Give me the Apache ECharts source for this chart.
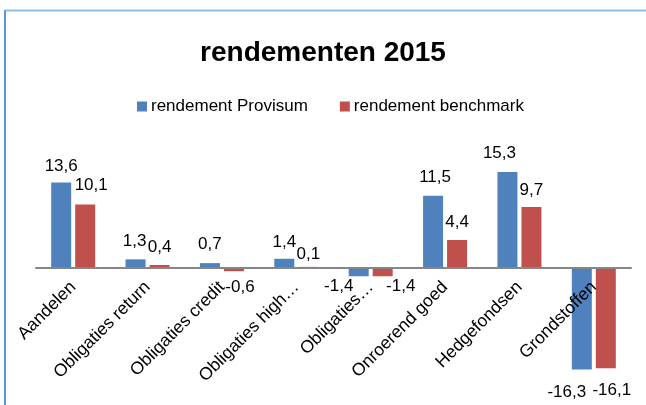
<!DOCTYPE html>
<html>
<head>
<meta charset="utf-8">
<script src="https://cdn.jsdelivr.net/npm/echarts@6/dist/echarts.min.js"></script>
<style>
html,body{margin:0;padding:0;background:#fff;}
#chart{width:646px;height:405px;}
</style>
</head>
<body>
<div id="chart"></div>
<script>
var categories = ['Aandelen', 'Obligaties return', 'Obligaties credit', 'Obligaties high…', 'Obligaties…', 'Onroerend goed', 'Hedgefondsen', 'Grondstoffen'];
var provisum = [13.6, 1.3, 0.7, 1.4, -1.4, 11.5, 15.3, -16.3];
var benchmark = [10.1, 0.4, -0.6, 0.1, -1.4, 4.4, 9.7, -16.1];
var seriesNames = ['rendement Provisum', 'rendement benchmark'];
var titleText = 'rendementen 2015';

// label nudges (styling only) [dx, dy]
var nudgeProvisum = [[0,0],[-1,-2],[0,-2],[0,0],[-20,-6],[2,-2],[-8,-2],[-15,6]];
var nudgeBenchmark = [[6,-3],[0,-1],[6,0],[0,4],[18,-6],[0,-1],[0,0],[6,6]];

var FONT = "'Liberation Sans', Arial, sans-serif";
var Y_MIN = -17, Y_MAX = 16, GRID_TOP = 167.5, GRID_BOTTOM = 31.25, H = 405;

function fmt(v){ return String(v).replace('.', ','); }

function buildData(vals, nudges){
  return vals.map(function(v, i){
    return {
      value: v,
      label: {
        position: v >= 0 ? 'top' : 'bottom',
        offset: nudges[i]
      }
    };
  });
}

// move the category axis (line + labels) up to the zero level
var plotH = H - GRID_TOP - GRID_BOTTOM;
var zeroShift = plotH * (0 - Y_MIN) / (Y_MAX - Y_MIN);

var chart = echarts.init(document.getElementById('chart'), null, {renderer:'canvas'});
chart.setOption({
  animation: false,
  backgroundColor: '#ffffff',
  color: ['#4f81bd', '#c0504d'],
  title: {
    text: titleText,
    left: 'center',
    top: 34,
    textStyle: {fontFamily: FONT, fontSize: 28, fontWeight: 'bold', color: '#000'}
  },
  legend: {
    data: seriesNames,
    left: 132,
    top: 93,
    icon: 'rect',
    itemWidth: 10,
    itemHeight: 10,
    itemGap: 32,
    textStyle: {fontFamily: FONT, fontSize: 17, color: '#000', padding: [0,0,0,-1]}
  },
  grid: {left: 36, right: 15, top: GRID_TOP, bottom: GRID_BOTTOM, containLabel: false, outerBoundsMode: 'none'},
  xAxis: {
    type: 'category',
    data: categories,
    offset: -zeroShift,
    z: 5,
    axisLine: {onZero: false, lineStyle: {color: '#868686', width: 2}},
    axisTick: {show: false},
    axisLabel: {interval: 0, rotate: 45, margin: 17, fontFamily: FONT, fontSize: 17.5, color: '#000', hideOverlap: false},
    splitLine: {show: false}
  },
  yAxis: {
    type: 'value',
    min: Y_MIN,
    max: Y_MAX,
    show: false
  },
  series: [
    {
      name: seriesNames[0],
      type: 'bar',
      barWidth: 20,
      barGap: '20%',
      data: buildData(provisum, nudgeProvisum),
      label: {show: true, distance: 8, fontFamily: FONT, fontSize: 17, color: '#000',
        formatter: function(p){ return fmt(p.value); }}
    },
    {
      name: seriesNames[1],
      type: 'bar',
      barWidth: 20,
      barGap: '20%',
      data: buildData(benchmark, nudgeBenchmark),
      label: {show: true, distance: 8, fontFamily: FONT, fontSize: 17, color: '#000',
        formatter: function(p){ return fmt(p.value); }}
    }
  ],
  graphic: [
    {type: 'line', shape: {x1: 5, y1: 10.5, x2: 646, y2: 10.5}, style: {stroke: '#8cc0ea', lineWidth: 2}},
    {type: 'line', shape: {x1: 5, y1: 10, x2: 5, y2: 405}, style: {stroke: '#5b9bd5', lineWidth: 2}}
  ]
});
</script>
</body>
</html>
